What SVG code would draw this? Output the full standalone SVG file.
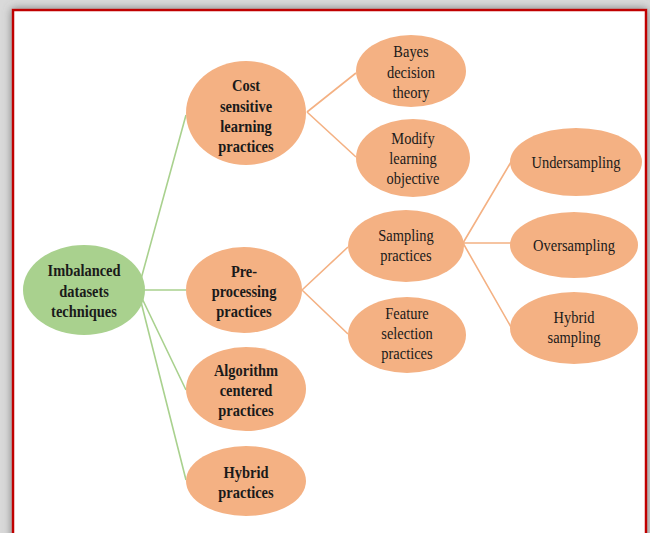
<svg xmlns="http://www.w3.org/2000/svg" width="650" height="533" viewBox="0 0 650 533">
<defs>
<filter id="sh" x="-5%" y="-5%" width="110%" height="110%">
<feDropShadow dx="0" dy="0" stdDeviation="4" flood-color="#707070" flood-opacity="0.9"/>
</filter>
<style>
.o{fill:#F4B183;}
.g{fill:#A9D18E;}
.lg{stroke:#A9D18E;stroke-width:1.6;fill:none;}
.lo{stroke:#F4B183;stroke-width:1.6;fill:none;}
text{font-family:"Liberation Serif","Times New Roman",serif;font-size:17px;fill:#1a1a1a;text-anchor:middle;transform-box:fill-box;transform-origin:center;transform:scaleX(0.85);}
.b{font-weight:bold;}
</style>
</defs>
<rect x="0" y="0" width="650" height="533" fill="#d9d9d9"/>
<rect x="13" y="10" width="633" height="535" fill="#ffffff" stroke="#C00000" stroke-width="2.5" filter="url(#sh)"/>
<g id="connectors">
<path class="lg" d="M138,290 L186,115 M138,290 L186,290 M138,290 L186,390 M138,290 L186,480"/>
<path class="lo" d="M307,112 L356,73 M307,112 L356,157"/>
<path class="lo" d="M302,290 L348,247 M302,290 L348,334"/>
<path class="lo" d="M463,243 L511,162 M463,243 L511,243 M463,243 L511,327"/>
</g>
<g id="root">
<ellipse class="g" cx="84" cy="290" rx="61" ry="45"/>
<text class="b" x="84" y="276">Imbalanced</text>
<text class="b" x="84" y="297">datasets</text>
<text class="b" x="84" y="317">techniques</text>
</g>
<g id="cost">
<ellipse class="o" cx="246" cy="113" rx="60" ry="52"/>
<text class="b" x="246" y="91">Cost</text>
<text class="b" x="246" y="112">sensitive</text>
<text class="b" x="246" y="132">learning</text>
<text class="b" x="246" y="152">practices</text>
</g>
<g id="preprocessing">
<ellipse class="o" cx="244" cy="290" rx="58" ry="43"/>
<text class="b" x="244" y="277">Pre-</text>
<text class="b" x="244" y="297">processing</text>
<text class="b" x="244" y="317">practices</text>
</g>
<g id="algorithm">
<ellipse class="o" cx="246" cy="389" rx="60" ry="42"/>
<text class="b" x="246" y="376">Algorithm</text>
<text class="b" x="246" y="396">centered</text>
<text class="b" x="246" y="416">practices</text>
</g>
<g id="hybrid-practices">
<ellipse class="o" cx="246" cy="481" rx="60" ry="35"/>
<text class="b" x="246" y="478">Hybrid</text>
<text class="b" x="246" y="498">practices</text>
</g>
<g id="bayes">
<ellipse class="o" cx="411" cy="71" rx="55" ry="36"/>
<text x="411" y="57">Bayes</text>
<text x="411" y="78">decision</text>
<text x="411" y="98">theory</text>
</g>
<g id="modify">
<ellipse class="o" cx="413" cy="158" rx="57" ry="39"/>
<text x="413" y="144">Modify</text>
<text x="413" y="164">learning</text>
<text x="413" y="184">objective</text>
</g>
<g id="sampling">
<ellipse class="o" cx="406" cy="246" rx="58" ry="36"/>
<text x="406" y="241">Sampling</text>
<text x="406" y="261">practices</text>
</g>
<g id="feature">
<ellipse class="o" cx="407" cy="335" rx="59" ry="38"/>
<text x="407" y="319">Feature</text>
<text x="407" y="339">selection</text>
<text x="407" y="359">practices</text>
</g>
<g id="undersampling">
<ellipse class="o" cx="576" cy="162" rx="66" ry="34"/>
<text x="576" y="168">Undersampling</text>
</g>
<g id="oversampling">
<ellipse class="o" cx="574" cy="245" rx="64" ry="33"/>
<text x="574" y="251">Oversampling</text>
</g>
<g id="hybrid-sampling">
<ellipse class="o" cx="574" cy="328" rx="64" ry="36"/>
<text x="574" y="323">Hybrid</text>
<text x="574" y="343">sampling</text>
</g>
</svg>
